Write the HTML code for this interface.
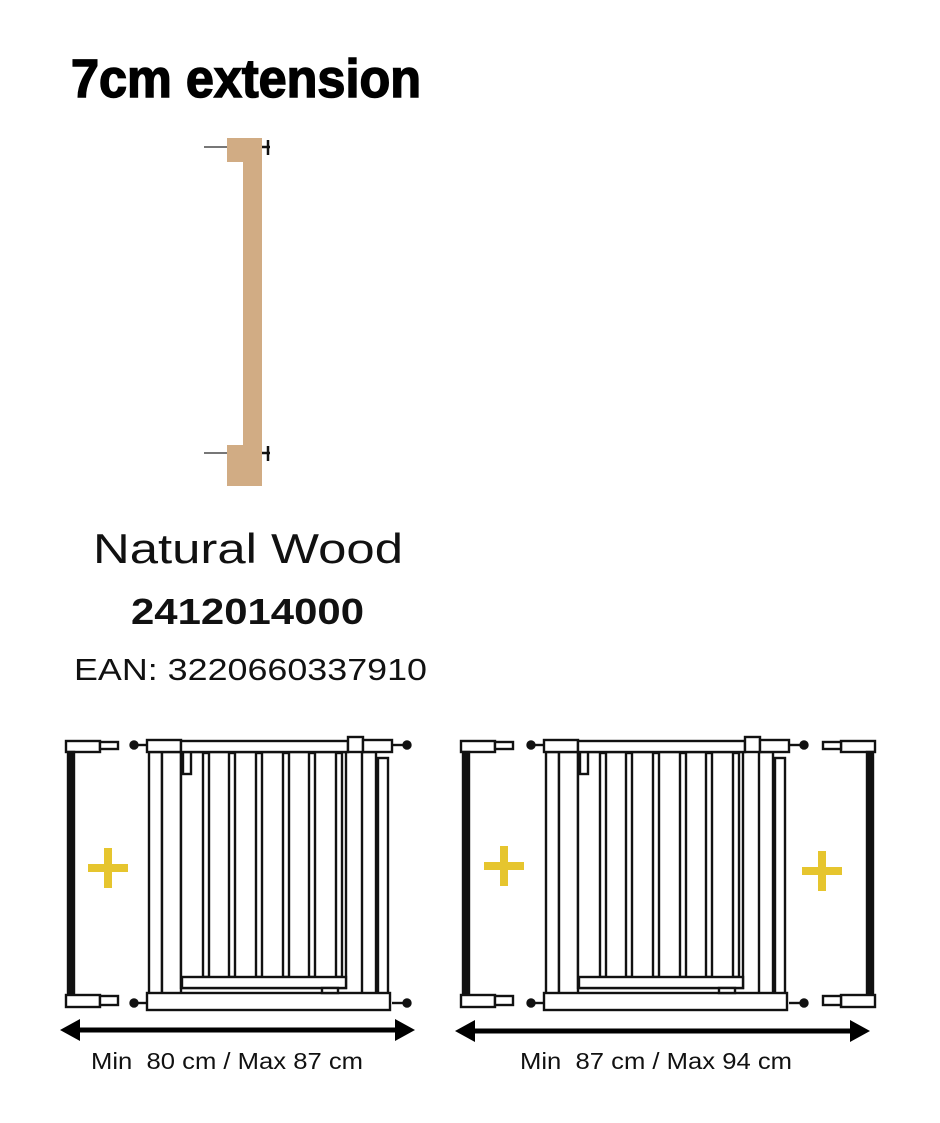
<!DOCTYPE html>
<html><head><meta charset="utf-8"><style>
html,body{margin:0;padding:0;background:#fff;}
svg{display:block;}
</style></head><body>
<svg width="940" height="1123" viewBox="0 0 940 1123" xmlns="http://www.w3.org/2000/svg">
<defs>
  <g id="gate" fill="#fff" stroke="#111" stroke-width="2.4">
    <line x1="134" y1="745" x2="147" y2="745"/><circle cx="134" cy="745" r="3.5" fill="#111"/>
    <line x1="134" y1="1003" x2="147" y2="1003"/><circle cx="134" cy="1003" r="3.5" fill="#111"/>
    <line x1="392" y1="745" x2="407" y2="745"/><circle cx="407" cy="745" r="3.5" fill="#111"/>
    <line x1="392" y1="1003" x2="407" y2="1003"/><circle cx="407" cy="1003" r="3.5" fill="#111"/>
    <rect x="149" y="752" width="13" height="242"/>
    <rect x="162" y="752" width="19" height="242"/>
    <rect x="362" y="752" width="14" height="242"/>
    <rect x="378" y="758" width="10" height="236"/>
    <rect x="181" y="752" width="165" height="236"/>
    <rect x="203" y="753" width="6" height="224"/>
    <rect x="229" y="753" width="6" height="224"/>
    <rect x="256" y="753" width="6" height="224"/>
    <rect x="283" y="753" width="6" height="224"/>
    <rect x="309" y="753" width="6" height="224"/>
    <rect x="336" y="753" width="6" height="224"/>
    <rect x="182" y="977" width="164" height="11"/>
    <rect x="183" y="752" width="8" height="22"/>
    <rect x="147" y="740" width="34" height="12"/>
    <rect x="181" y="741" width="167" height="11"/>
    <rect x="348" y="737" width="15" height="15"/>
    <rect x="363" y="740" width="29" height="12"/>
    <rect x="147" y="993" width="243" height="17"/>
    <rect x="322" y="988" width="16" height="5"/>
  </g>
  <g id="ext" fill="#fff" stroke="#111" stroke-width="2.4">
    <rect x="66" y="741" width="34" height="11"/>
    <rect x="100" y="742" width="18" height="7"/>
    <rect x="68" y="752" width="6" height="243" fill="#111"/>
    <rect x="66" y="995" width="34" height="12"/>
    <rect x="100" y="996" width="18" height="9"/>
  </g>
  <g id="plus" fill="#e6c52e">
    <rect x="-20" y="-4" width="40" height="8"/>
    <rect x="-4" y="-20" width="8" height="40"/>
  </g>
</defs>

<text x="71" y="97" font-family="Liberation Sans, sans-serif" font-weight="bold" font-size="54" textLength="350" lengthAdjust="spacingAndGlyphs" fill="#000" stroke="#000" stroke-width="1.5">7cm extension</text>

<g stroke="#777" stroke-width="2"><line x1="204" y1="147" x2="227" y2="147"/><line x1="204" y1="453" x2="227" y2="453"/></g>
<path d="M227 138 H262 V486 H227 V445 H243 V162 H227 Z" fill="#d1ac84"/>
<g stroke="#111" stroke-width="2.5"><line x1="262" y1="147" x2="270" y2="147"/><line x1="268" y1="140" x2="268" y2="155"/>
<line x1="262" y1="453" x2="270" y2="453"/><line x1="268" y1="446" x2="268" y2="461"/></g>

<g font-family="Liberation Sans, sans-serif" fill="#111" text-anchor="start">
<text x="93" y="563" font-size="42" textLength="310" lengthAdjust="spacingAndGlyphs">Natural Wood</text>
<text x="131" y="624" font-size="36" font-weight="bold" textLength="233" lengthAdjust="spacingAndGlyphs">2412014000</text>
<text x="74" y="680" font-size="31" textLength="353" lengthAdjust="spacingAndGlyphs">EAN: 3220660337910</text>
</g>

<use href="#ext"/>
<use href="#plus" x="108" y="868"/>
<use href="#gate"/>
<line x1="72" y1="1030" x2="402" y2="1030" stroke="#000" stroke-width="5"/>
<path d="M60 1030 L80 1019 L80 1041 Z M415 1030 L395 1019 L395 1041 Z" fill="#000"/>
<text x="91" y="1069" font-family="Liberation Sans, sans-serif" font-size="23" fill="#111" textLength="272" lengthAdjust="spacingAndGlyphs" xml:space="preserve">Min  80 cm / Max 87 cm</text>

<use href="#ext" x="395"/>
<use href="#plus" x="504" y="866"/>
<use href="#gate" x="397"/>
<use href="#ext" transform="translate(941,0) scale(-1,1)"/>
<use href="#plus" x="822" y="871"/>
<line x1="467" y1="1031" x2="858" y2="1031" stroke="#000" stroke-width="5"/>
<path d="M455 1031 L475 1020 L475 1042 Z M870 1031 L850 1020 L850 1042 Z" fill="#000"/>
<text x="520" y="1069" font-family="Liberation Sans, sans-serif" font-size="23" fill="#111" textLength="272" lengthAdjust="spacingAndGlyphs" xml:space="preserve">Min  87 cm / Max 94 cm</text>
</svg>
</body></html>
